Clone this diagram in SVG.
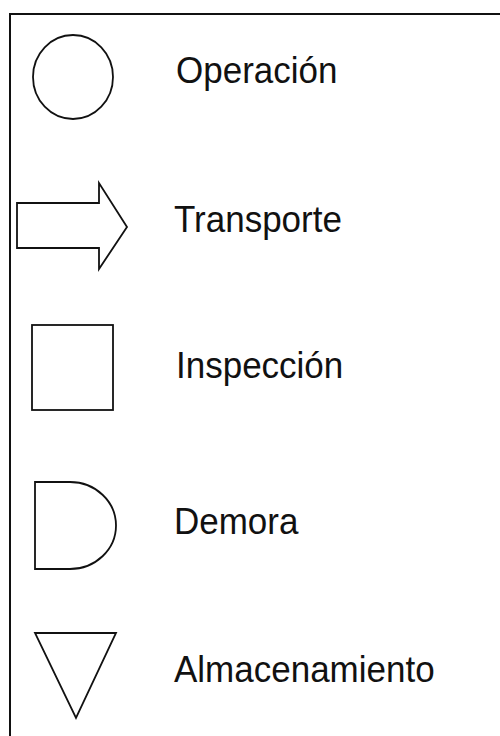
<svg xmlns="http://www.w3.org/2000/svg" width="500" height="736" viewBox="0 0 500 736">
<style>
.sh{fill:#fff;stroke:#111;stroke-width:1.8;stroke-linejoin:miter}
.lb{font-family:"Liberation Sans",Arial,sans-serif;font-size:35px;fill:#111}
</style>
<rect x="0" y="0" width="500" height="736" fill="#fff"/>
<rect id="frame" x="10" y="14" width="520" height="760" fill="none" stroke="#111" stroke-width="2"/>
<g id="connectors"></g>
<g id="operacion">
<ellipse class="sh" cx="73" cy="77" rx="40" ry="42"/>
<text class="lb" transform="translate(176,83) scale(1,1.05)">Operación</text>
</g>
<g id="transporte">
<polygon class="sh" points="17,203 99,203 99,183 127,227 99,269 99,248 17,248"/>
<text class="lb" transform="translate(174,232) scale(1,1.05)">Transporte</text>
</g>
<g id="inspeccion">
<rect class="sh" x="32" y="325" width="81" height="85"/>
<text class="lb" transform="translate(176,378) scale(1,1.05)">Inspección</text>
</g>
<g id="demora">
<path class="sh" d="M35,482 H70 A46,43.5 0 0 1 70,569 H35 Z"/>
<text class="lb" transform="translate(174,534) scale(1,1.05)">Demora</text>
</g>
<g id="almacenamiento">
<polygon class="sh" points="35,633 116,633 76,718"/>
<text class="lb" transform="translate(174,682) scale(1,1.05)">Almacenamiento</text>
</g>
</svg>
